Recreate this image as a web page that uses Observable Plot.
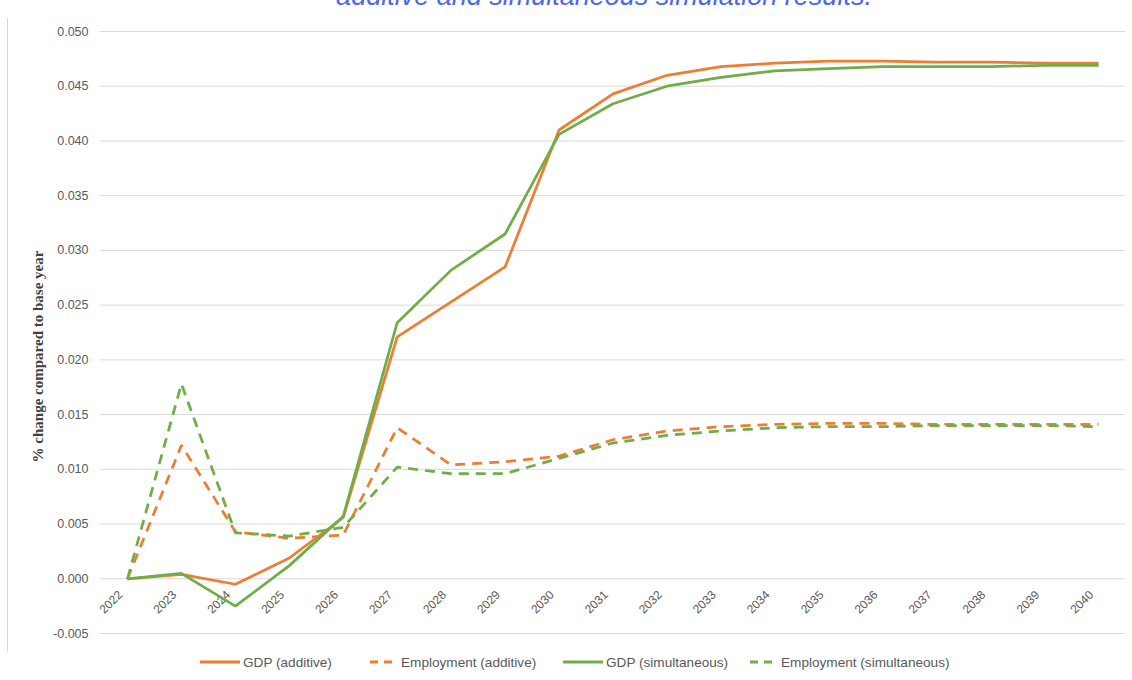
<!DOCTYPE html>
<html>
<head>
<meta charset="utf-8">
<script src="https://cdn.jsdelivr.net/npm/d3@7"></script>
<script src="https://cdn.jsdelivr.net/npm/@observablehq/plot@0.6"></script>
<style>
  html, body { margin: 0; padding: 0; background: #fff; }
  #wrap { position: relative; width: 1132px; height: 680px; overflow: hidden; font-family: "Liberation Sans", Arial, sans-serif; }
  #title { position: absolute; top: -19px; left: 0; width: 1208px; text-align: center; font-size: 27px; line-height: 30px; font-style: italic; color: #4a67f0; white-space: nowrap; }
  #border { position: absolute; left: 7px; top: 18px; width: 0; height: 634px; border-left: 1px solid #d9d9d9; }
  #chart { position: absolute; left: 0; top: 0; }
  #legend { position: absolute; top: 653px; left: 0; width: 1132px; height: 20px; font-size: 13.6px; color: #595959; white-space: nowrap; }
  #legend .item { position: absolute; top: 0; display: flex; align-items: center; height: 18px; }
</style>
</head>
<body>
<div id="wrap">
  <div id="title">additive and simultaneous simulation results.</div>
  <div id="border"></div>
  <div id="chart"></div>
  <div id="legend"></div>
</div>
<script>
const years = [2022, 2023, 2024, 2025, 2026, 2027, 2028, 2029, 2030, 2031, 2032, 2033, 2034, 2035, 2036, 2037, 2038, 2039, 2040];
const gdpAdditive     = [0, 0.0004, -0.0005, 0.0019, 0.0056, 0.0221, 0.0253, 0.0285, 0.0410, 0.0443, 0.0460, 0.0468, 0.0471, 0.0473, 0.0473, 0.0472, 0.0472, 0.0471, 0.0471];
const empAdditive     = [0, 0.0122, 0.0043, 0.0037, 0.0040, 0.0138, 0.0104, 0.0107, 0.0112, 0.0127, 0.0135, 0.0139, 0.0141, 0.0142, 0.0142, 0.0141, 0.0141, 0.0141, 0.0141];
const gdpSimultaneous = [0, 0.0005, -0.0025, 0.0012, 0.0057, 0.0234, 0.0282, 0.0315, 0.0406, 0.0434, 0.0450, 0.0458, 0.0464, 0.0466, 0.0468, 0.0468, 0.0468, 0.0469, 0.0469];
const empSimultaneous = [0, 0.0178, 0.0042, 0.0039, 0.0047, 0.0102, 0.0096, 0.0096, 0.0110, 0.0124, 0.0131, 0.0135, 0.0138, 0.0139, 0.0139, 0.0140, 0.0140, 0.0140, 0.0139];
const yTicks = [-0.005, 0, 0.005, 0.010, 0.015, 0.020, 0.025, 0.030, 0.035, 0.040, 0.045, 0.050];
const yLabel = "% change compared to base year";

const seriesNames = ["GDP (additive)", "Employment (additive)", "GDP (simultaneous)", "Employment (simultaneous)"];
const seriesValues = [gdpAdditive, empAdditive, gdpSimultaneous, empSimultaneous];
const seriesColors = ["#ED7D31", "#ED7D31", "#70AD47", "#70AD47"];
const seriesDashed = [false, true, false, true];
const legendLeft = [200, 370, 563, 750];

const toRows = (vals) => years.map((year, i) => ({year, value: vals[i]}));

const lineMarks = seriesValues.map((vals, k) =>
  Plot.line(toRows(vals), {
    x: "year", y: "value",
    stroke: seriesColors[k], strokeWidth: 2.75,
    strokeDasharray: seriesDashed[k] ? "10,7" : null,
    strokeLinejoin: "miter", strokeLinecap: "butt"
  })
);

const chart = Plot.plot({
  width: 1132,
  height: 645,
  marginLeft: 100,
  marginRight: 7,
  marginTop: 31,
  marginBottom: 12,
  style: {fontFamily: "Liberation Sans, Arial, sans-serif", fontSize: "12.5px", color: "#595959", background: "transparent"},
  x: {type: "linear", domain: [years[0] - 0.5, years[years.length - 1] + 0.5], axis: null},
  y: {domain: [-0.005, 0.050], axis: null},
  marks: [
    Plot.ruleY(yTicks, {stroke: "#d9d9d9", strokeWidth: 1}),
    Plot.axisY(yTicks, {tickSize: 0, tickPadding: 12, tickFormat: d => d.toFixed(3), fill: "#595959", fontSize: 12.5, label: null}),
    Plot.text(years, {x: d => d, y: () => 0, text: d => String(d), rotate: -45, textAnchor: "end", dx: -7, dy: 14, fill: "#595959", fontSize: 12}),
    Plot.text([yLabel], {frameAnchor: "left", text: d => d, rotate: -90, dx: -62, dy: 24, textAnchor: "middle", fontWeight: "bold", fontFamily: "Liberation Serif, serif", fontSize: 15, fill: "#404040"}),
    ...lineMarks
  ]
});
document.getElementById("chart").appendChild(chart);

const legend = document.getElementById("legend");
seriesNames.forEach((name, k) => {
  const item = document.createElement("div");
  item.className = "item";
  item.style.left = legendLeft[k] + "px";
  const w = seriesDashed[k] ? 24 : 40;
  const gap = seriesDashed[k] ? 7 : 3;
  const dash = seriesDashed[k] ? ' stroke-dasharray="8,6"' : '';
  item.innerHTML = `<svg width="${w}" height="10" style="margin-right:${gap}px"><line x1="0" y1="5" x2="${w}" y2="5" stroke="${seriesColors[k]}" stroke-width="3"${dash}/></svg><span>${name}</span>`;
  legend.appendChild(item);
});
</script>
</body>
</html>
